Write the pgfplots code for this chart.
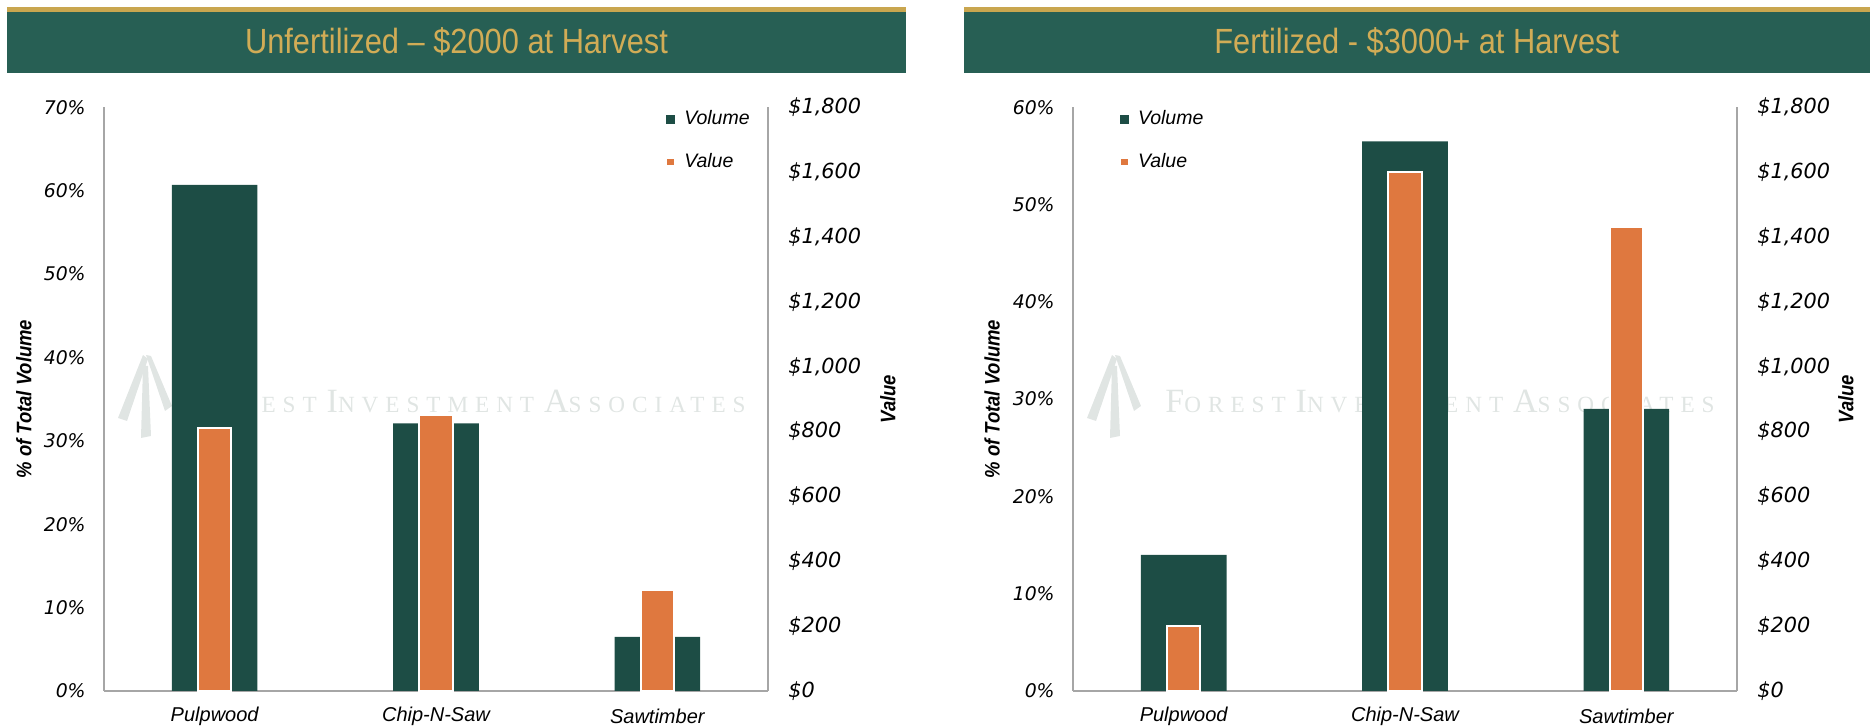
\documentclass[border=0pt]{standalone}
\usepackage{fontspec}
\setmainfont{Liberation Sans}
\newfontfamily\tickfamily{DejaVu Sans}[ItalicFont={DejaVu Sans Oblique}]
\newfontfamily\wmfamily{Liberation Serif}[LetterSpace=30]
\usepackage{graphicx}
\usepackage{pgfplots}
\pgfplotsset{compat=1.18}

\definecolor{volc}{HTML}{1D4D45}
\definecolor{valc}{HTML}{DF783F}
\definecolor{bargreen}{HTML}{275F54}
\definecolor{gold}{HTML}{C9A64F}
\definecolor{titlegold}{HTML}{D1AC56}
\definecolor{axgray}{HTML}{A6A6A6}
\definecolor{wm}{HTML}{E0E5E3}

\newcommand\tickf{\tickfamily\itshape\fontsize{9.4}{10}\selectfont}
\newcommand\tickfr{\tickfamily\itshape\fontsize{10.4}{11}\selectfont}
\newcommand\catf{\itshape\fontsize{10}{12}\selectfont}
\newcommand\legf{\itshape\fontsize{9.75}{11}\selectfont}
\newcommand\labf{\bfseries\itshape\fontsize{10.5}{12}\selectfont}
\newcommand\titf{\fontsize{17.5}{19}\selectfont}
\newcommand\wmtext{\wmfamily\fontsize{11.6}{11.6}\selectfont{\fontsize{17}{17}\selectfont F}OREST\hspace{5pt}{\fontsize{17}{17}\selectfont I}NVESTMENT\hspace{5pt}{\fontsize{17}{17}\selectfont A}SSOCIATES}

\pgfplotsset{
  sqlegend/.style={legend image code/.code={\fill[##1] (0pt,-2.2pt) rectangle (4.4pt,2.2pt);}},
  base/.style={
    scale only axis, width=332pt, height=291.85pt,
    xmin=-0.5, xmax=2.5, ymin=0,
    major tick length=0pt, minor tick num=0,
    axis line style={axgray, line width=0.8pt, -},
    clip=false,
  },
  primary/.style={base,
    axis x line*=bottom, axis y line*=left,
    xtick={0,1,2}, xticklabels={Pulpwood,Chip-N-Saw,Sawtimber},
    xticklabel style={font=\catf, anchor=center, inner sep=0pt, yshift=-12.5pt},
    yticklabel style={font=\tickf, anchor=east, inner sep=0pt, xshift=-9pt},
    ylabel={\scalebox{0.88}[1]{\% of Total Volume}},
    ylabel style={font=\labf, anchor=center},
    ybar, bar width=0.387, bar shift=0pt,
  },
  secondary/.style={base,
    axis y line*=right, axis x line=none,
    ymax=1800, ytick={0,200,400,600,800,1000,1200,1400,1600,1800},
    yticklabels={\$0,\$200,\$400,\$600,\$800,{\$1,000},{\$1,200},{\$1,400},{\$1,600},{\$1,800}},
    yticklabel style={font=\tickfr, anchor=west, inner sep=0pt, xshift=10pt},
    ylabel={\scalebox{0.88}[1]{Value}},
    ylabel style={font=\labf, anchor=center},
    ybar, bar width=0.15, bar shift=0pt,
    legend style={draw=none, fill=none, inner sep=0pt, row sep=12.8pt,
      font=\legf, nodes={inner xsep=4pt, inner ysep=0pt}},
    legend cell align=left,
  },
}

\begin{document}
\begin{tikzpicture}
\useasboundingbox (0,0) rectangle (935pt,363pt);
\begin{scope}[shift={(0pt,363pt)}, x=0.5pt, y=-0.5pt]
  % title bars
  \fill[gold] (7,7.3) rectangle (906,11.7);
  \fill[bargreen] (7,11.7) rectangle (906,73.3);
  \node[text=titlegold, font=\titf] at (456.5,42) {\scalebox{0.88}[1]{Unfertilized – \$2000 at Harvest}};
  \fill[gold] (963.6,7.3) rectangle (1870,11.7);
  \fill[bargreen] (963.6,11.7) rectangle (1870,73.3);
  \node[text=titlegold, font=\titf] at (1416.8,42) {\scalebox{0.88}[1]{Fertilized - \$3000+ at Harvest}};
  % watermarks
  \foreach \o in {0,969}{
    \begin{scope}[xshift=\o*0.5pt]
      \fill[wm] (143,355) -- (148,359) -- (127,421) -- (118,418) -- cycle;
      \fill[wm] (143,366) -- (148,366) -- (151,436) -- (141,438) -- cycle;
      \fill[wm] (146,355) -- (151,356) -- (172,406) -- (165,411) -- cycle;
      \node[anchor=base east, text=wm, inner sep=0pt] at (746,413) {\wmtext};
    \end{scope}
  }
\end{scope}

% ---------- Left panel ----------
\begin{axis}[primary, at={(52pt,17.5pt)}, anchor=south west,
  ymax=70, ytick={0,10,20,30,40,50,60,70},
  yticklabels={0\%,10\%,20\%,30\%,40\%,50\%,60\%,70\%},
  ylabel style={at={(axis description cs:-0.1205,0.5)}}]
  \addplot[fill=volc, draw=none] coordinates {(0,60.7) (1,32.1) (2,6.5)};
\end{axis}
\begin{axis}[secondary, at={(52pt,17.5pt)}, anchor=south west,
  ylabel style={at={(axis description cs:1.1807,0.5)}},
  legend style={at={(rel axis cs:0.845,0.995)}, anchor=north west}]
  \addlegendimage{sqlegend, fill=volc, draw=none}
  \addlegendentry{Volume}
  \addplot[sqlegend, fill=valc, draw=white, line width=1pt] coordinates {(0,810) (1,850) (2,310)};
  \addlegendentry{Value}
\end{axis}

% ---------- Right panel ----------
\begin{axis}[primary, at={(536.5pt,17.5pt)}, anchor=south west,
  ymax=60, ytick={0,10,20,30,40,50,60},
  yticklabels={0\%,10\%,20\%,30\%,40\%,50\%,60\%},
  ylabel style={at={(axis description cs:-0.122,0.5)}}]
  \addplot[fill=volc, draw=none] coordinates {(0,14.0) (1,56.5) (2,29.0)};
\end{axis}
\begin{axis}[secondary, at={(536.5pt,17.5pt)}, anchor=south west,
  ylabel style={at={(axis description cs:1.164,0.5)}},
  legend style={at={(rel axis cs:0.069,0.995)}, anchor=north west}]
  \addlegendimage{sqlegend, fill=volc, draw=none}
  \addlegendentry{Volume}
  \addplot[sqlegend, fill=valc, draw=white, line width=1pt] coordinates {(0,200) (1,1600) (2,1430)};
  \addlegendentry{Value}
\end{axis}
\end{tikzpicture}
\end{document}
